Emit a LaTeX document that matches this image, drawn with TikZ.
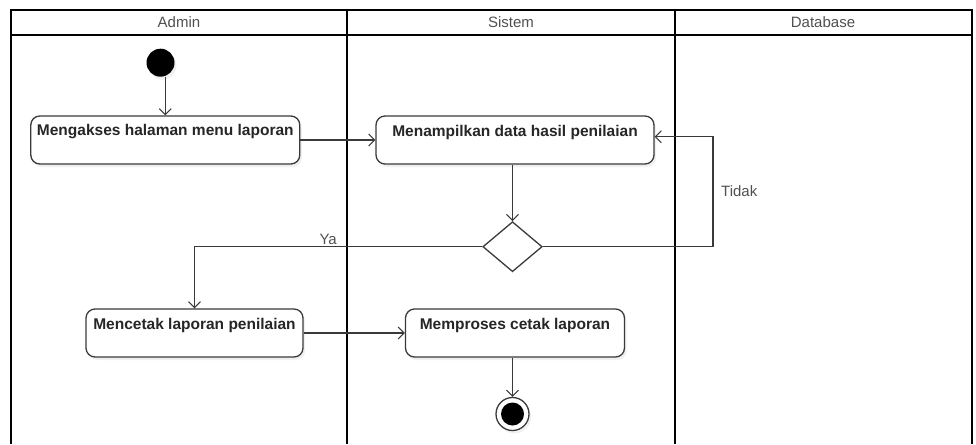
\documentclass[tikz,border=0pt]{standalone}
\usepackage{fontspec}
\setmainfont{Liberation Sans}
\usetikzlibrary{arrows.meta,shapes.geometric,shadows}
\definecolor{conn}{HTML}{3A3A3A}
\definecolor{hdr}{HTML}{505050}
\tikzset{
  lane/.style={line width=2pt, draw=black},
  actbox/.style={draw=conn, line width=1.3pt, rounded corners=9pt, fill=white,
    drop shadow={shadow xshift=2pt, shadow yshift=-3pt, opacity=0.12}},
  acttext/.style={font=\fontsize{15.5}{18}\selectfont\bfseries, text=black!85, anchor=center, inner sep=0pt},
  hdrtext/.style={font=\fontsize{15}{17}\selectfont, text=hdr, inner sep=0pt},
  lbl/.style={font=\fontsize{15}{17}\selectfont, text=hdr, inner sep=0pt},
  conline/.style={draw=conn, line width=1.3pt},
  arr/.style={conline, -{Straight Barb[length=6pt,width=12pt,line width=1pt]}},
}
\begin{document}
\begin{tikzpicture}[x=1pt,y=-1pt]
\useasboundingbox (0,0) rectangle (976,444);
% swimlanes
\draw[lane] (11,444) -- (11,10) -- (971.7,10) -- (971.7,444);
\draw[lane] (11,34.7) -- (971.7,34.7);
\draw[lane] (347.3,10) -- (347.3,444);
\draw[lane] (675,10) -- (675,444);
\node[hdrtext] (h1) at (179,22.5) {Admin};
\node[hdrtext] (h2) at (511,22.5) {Sistem};
\node[hdrtext] (h3) at (823,22.5) {Database};
% nodes
\node[circle, fill=black, minimum size=28pt, inner sep=0pt,
  drop shadow={shadow xshift=2pt, shadow yshift=-3pt, opacity=0.12}] (start) at (160.5,62.7) {};
\node[actbox, minimum width=269pt, minimum height=48pt] (b1) at (165.3,140) {};
\node[acttext] (t1) at (165.3,132) {Mengakses halaman menu laporan};
\node[actbox, minimum width=278pt, minimum height=48pt] (b2) at (515,140) {};
\node[acttext] (t2) at (515,132) {Menampilkan data hasil penilaian};
\node[diamond, draw=conn, line width=1.3pt, fill=white, minimum width=59.4pt, minimum height=50pt, inner sep=0pt] (dec) at (512.5,246.7) {};
\node[actbox, minimum width=217pt, minimum height=48pt] (b3) at (194.5,333) {};
\node[acttext] (t3) at (194.5,325) {Mencetak laporan penilaian};
\node[actbox, minimum width=219pt, minimum height=48pt] (b4) at (515,333) {};
\node[acttext] (t4) at (515,325) {Memproses cetak laporan};
\node[circle, draw=conn, line width=1.3pt, fill=white, minimum size=33pt, inner sep=0pt,
  drop shadow={shadow xshift=2pt, shadow yshift=-3pt, opacity=0.12}] (end) at (512.5,414) {};
\node[circle, fill=black, minimum size=23pt, inner sep=0pt] (endin) at (end.center) {};
\coordinate (tk) at (713,136.7);
% connectors
\draw[arr] (start.south -| b1.north) -- (b1.north);
\draw[arr] (b1.east) -- (b2.west);
\draw[arr] (b2.south -| dec.north) -- (dec.north);
\draw[arr] (dec.east) -| (tk) -- (tk -| b2.east);
\draw[arr] (dec.west) -| (b3.north);
\draw[arr] (b3.east) -- (b4.west);
\draw[arr] (b4.south -| end.north) -- (end.north);
\node[lbl, anchor=west] (ltidak) at (721,191) {Tidak};
\node[lbl, anchor=east] (lya) at (337,239) {Ya};
\end{tikzpicture}
\end{document}
